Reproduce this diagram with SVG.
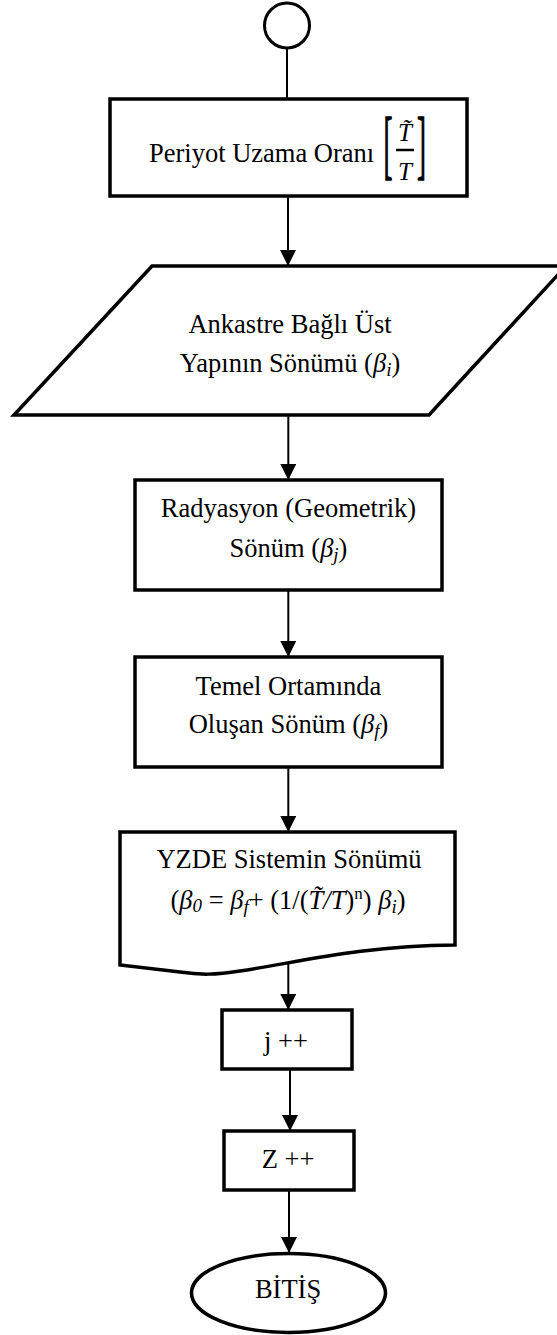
<svg xmlns="http://www.w3.org/2000/svg" width="557" height="1335" viewBox="0 0 557 1335">
<style>
.s{fill:#fff;stroke:#000;stroke-width:3.5;stroke-linejoin:miter}
.t{font-family:"Liberation Serif","Times New Roman",serif;font-size:26.5px;fill:#000}
.m{text-anchor:middle}
.i{font-style:italic}
.sub{font-size:19px}
.sup{font-size:17px}
.br{font-size:27px;stroke:#000;stroke-width:0.5}
.c{stroke:#000;stroke-width:2;fill:none}
</style>
<defs>
<marker id="ah" markerUnits="userSpaceOnUse" viewBox="0 0 16 16" markerWidth="16" markerHeight="16" refX="16" refY="8" orient="auto">
<path d="M0,0 L16,8 L0,16 Z" fill="#000"/>
</marker>
</defs>
<rect width="557" height="1335" fill="#fff"/>
<g id="connectors">
<line class="c" x1="287" y1="48" x2="287" y2="99"/>
<line class="c" x1="288" y1="197" x2="288" y2="266" marker-end="url(#ah)"/>
<line class="c" x1="288.3" y1="416" x2="288.3" y2="480" marker-end="url(#ah)"/>
<line class="c" x1="288.3" y1="591" x2="288.3" y2="657" marker-end="url(#ah)"/>
<line class="c" x1="288.3" y1="767" x2="288.3" y2="832" marker-end="url(#ah)"/>
<line class="c" x1="288.3" y1="948" x2="288.3" y2="1010" marker-end="url(#ah)"/>
<line class="c" x1="290" y1="1069" x2="290" y2="1131" marker-end="url(#ah)"/>
<line class="c" x1="289" y1="1190" x2="289" y2="1253" marker-end="url(#ah)"/>
</g>
<g id="start">
<circle cx="287" cy="25.5" r="22.5" fill="#fff" stroke="#000" stroke-width="3"/>
</g>
<g id="periyot">
<rect class="s" x="110" y="99" width="357" height="97"/>
<text class="t" x="149" y="162">Periyot Uzama Oranı</text>
<text class="t br" transform="translate(383.5,0) scale(1,2.85)" x="0" y="59.5">[</text>
<text class="t br" transform="translate(417,0) scale(1,2.85)" x="0" y="59.5">]</text>
<text class="t i m" x="405" y="141" style="font-size:25px">T&#x303;</text>
<line x1="396" y1="150" x2="414" y2="150" stroke="#000" stroke-width="2.5"/>
<text class="t i m" x="405" y="180" style="font-size:25px">T</text>
</g>
<g id="ankastre">
<polygon class="s" points="152,266 566,266 429,415 14,415"/>
<text class="t m" x="290" y="333">Ankastre Bağlı Üst</text>
<text class="t m" x="290" y="372">Yapının Sönümü (<tspan class="i">β</tspan><tspan class="i sub" dy="4">i</tspan><tspan dy="-4">)</tspan></text>
</g>
<g id="radyasyon">
<rect class="s" x="135" y="480" width="307" height="110"/>
<text class="t m" x="288.5" y="517">Radyasyon (Geometrik)</text>
<text class="t m" x="288.5" y="557">Sönüm (<tspan class="i">β</tspan><tspan class="i sub" dy="4">j</tspan><tspan dy="-4">)</tspan></text>
</g>
<g id="temel">
<rect class="s" x="135" y="657" width="307" height="110"/>
<text class="t m" x="288.5" y="695">Temel Ortamında</text>
<text class="t m" x="288.5" y="733">Oluşan Sönüm (<tspan class="i">β</tspan><tspan class="i sub" dy="4">f</tspan><tspan dy="-4">)</tspan></text>
</g>
<g id="yzde">
<path class="s" d="M120,832 L455,832 L455,945 C360,946 300,962 240,971 C215,975 200,975 180,972 L120,965 Z"/>
<text class="t m" x="289" y="868">YZDE Sistemin Sönümü</text>
<text class="t m" x="288" y="909">(<tspan class="i">β</tspan><tspan class="i sub" dy="3">0</tspan><tspan dy="-3"> = </tspan><tspan class="i">β</tspan><tspan class="i sub" dy="4">f</tspan><tspan dy="-4">+ (1/(</tspan><tspan class="i">T&#x303;/T</tspan>)<tspan class="sup" dy="-10">n</tspan><tspan dy="10">) </tspan><tspan class="i">β</tspan><tspan class="i sub" dy="4">i</tspan><tspan dy="-4">)</tspan></text>
</g>
<g id="j">
<rect class="s" x="222" y="1010" width="130" height="59"/>
<text class="t m" x="286" y="1050">j ++</text>
</g>
<g id="z">
<rect class="s" x="224" y="1131" width="130" height="59"/>
<text class="t m" x="288" y="1168">Z ++</text>
</g>
<g id="bitis">
<ellipse class="s" cx="288.5" cy="1293" rx="97" ry="39.5"/>
<text class="t m" x="288" y="1298">BİTİŞ</text>
</g>
</svg>
